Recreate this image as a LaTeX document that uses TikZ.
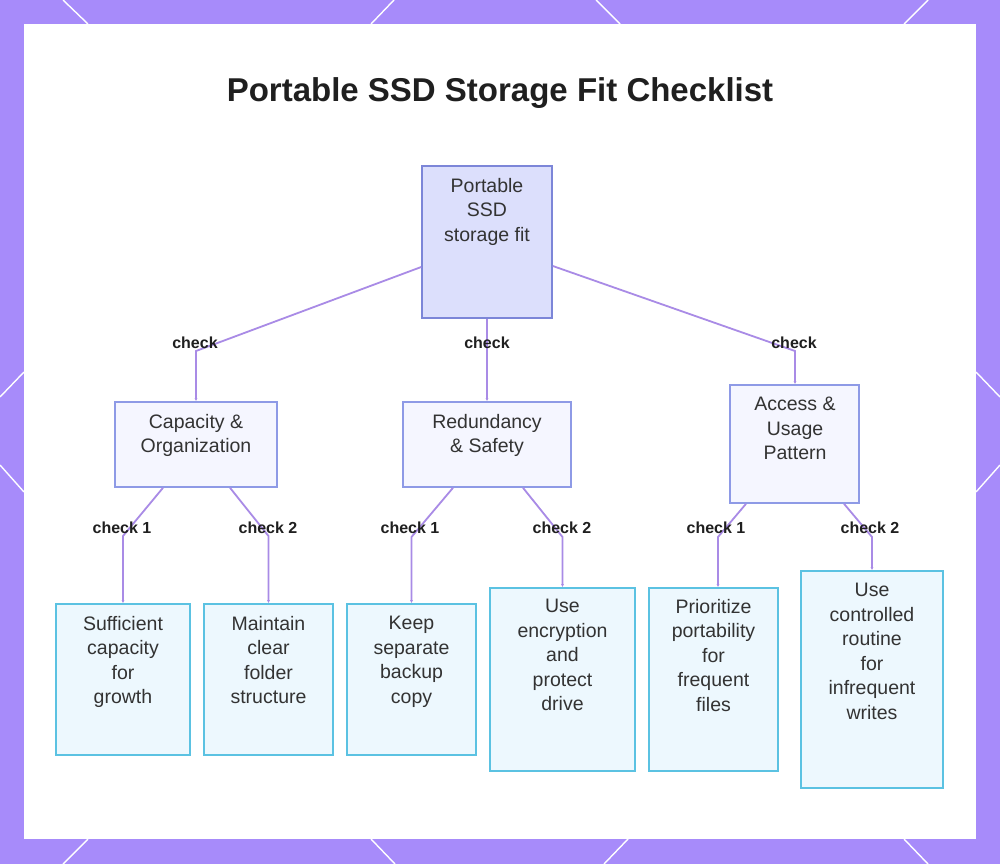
\documentclass[tikz,border=0pt]{standalone}
\usepackage{fontspec}
\setmainfont{Liberation Sans}
\usetikzlibrary{arrows.meta}
\definecolor{bord}{HTML}{A78BFA}
\definecolor{rootfill}{HTML}{DCDFFC}
\definecolor{rootline}{HTML}{7C86D8}
\definecolor{midfill}{HTML}{F5F6FF}
\definecolor{midline}{HTML}{8E9AE6}
\definecolor{leaffill}{HTML}{EDF8FE}
\definecolor{leafline}{HTML}{5BC2E2}
\definecolor{edgecol}{HTML}{A98BE6}
\definecolor{txt}{HTML}{333333}
\definecolor{dark}{HTML}{1F1F1F}
\tikzset{
  boxbase/.style={draw, line width=1.6pt, inner sep=0pt, rectangle},
  rootbox/.style={boxbase, fill=rootfill, draw=rootline},
  midbox/.style={boxbase, fill=midfill, draw=midline},
  leafbox/.style={boxbase, fill=leaffill, draw=leafline},
  boxtext/.style={anchor=north, inner sep=0pt, align=center, text=txt,
    font=\fontsize{19.5}{24.5}\selectfont},
  edge/.style={draw=edgecol, line width=1.8pt, -{Latex[length=3pt,width=3pt]}},
  elabel/.style={inner sep=0pt, text=dark, font=\fontsize{16}{18}\selectfont\bfseries},
  deco/.style={draw=white, line width=1.4pt}
}
\begin{document}
\begin{tikzpicture}[x=1pt,y=-1pt]
\useasboundingbox (0,0) rectangle (1000,864);
\fill[bord] (0,0) rectangle (1000,864);
% border decorations
\draw[deco] (63,0) -- (88,24);
\draw[deco] (394,0) -- (371,24);
\draw[deco] (596,0) -- (620,24);
\draw[deco] (928,0) -- (904,24);
\draw[deco] (63,864) -- (88,839);
\draw[deco] (395,864) -- (371,839);
\draw[deco] (604,864) -- (628,839);
\draw[deco] (928,864) -- (904,839);
\draw[deco] (0,397) -- (24,372);
\draw[deco] (0,465) -- (24,492);
\draw[deco] (1000,397) -- (976,372);
\draw[deco] (1000,465) -- (976,492);
\fill[white] (24,24) rectangle (976,839);
% title
\node[anchor=base, inner sep=0pt, text=dark, font=\fontsize{33}{38}\selectfont\bfseries] (title) at (500,102) {Portable SSD Storage Fit Checklist};
% boxes
\node[rootbox, minimum width=130pt, minimum height=152pt] (root) at (487,242) {};
\node[midbox, minimum width=162pt, minimum height=85pt] (cap) at (196,444.5) {};
\node[midbox, minimum width=168pt, minimum height=85pt] (red) at (487,444.5) {};
\node[midbox, minimum width=129pt, minimum height=118pt] (acc) at (794.5,444) {};
\node[leafbox, minimum width=134pt, minimum height=151pt] (l1) at (123,679.5) {};
\node[leafbox, minimum width=129pt, minimum height=151pt] (l2) at (268.5,679.5) {};
\node[leafbox, minimum width=129pt, minimum height=151pt] (l3) at (411.5,679.5) {};
\node[leafbox, minimum width=145pt, minimum height=183pt] (l4) at (562.5,679.5) {};
\node[leafbox, minimum width=129pt, minimum height=183pt] (l5) at (713.5,679.5) {};
\node[leafbox, minimum width=142pt, minimum height=217pt] (l6) at (872,679.5) {};
% texts
\node[boxtext] (troot) at (487,178) {Portable\\SSD\\storage fit};
\node[boxtext] (tcap) at (196,414) {Capacity \&\\Organization};
\node[boxtext] (tred) at (487,414) {Redundancy\\\& Safety};
\node[boxtext] (tacc) at (795,397) {Access \&\\Usage\\Pattern};
\node[boxtext] (tl1) at (123,616) {Sufficient\\capacity\\for\\growth};
\node[boxtext] (tl2) at (268.5,616) {Maintain\\clear\\folder\\structure};
\node[boxtext] (tl3) at (411.5,616) {Keep\\separate\\backup\\copy};
\node[boxtext] (tl4) at (562.5,599) {Use\\encryption\\and\\protect\\drive};
\node[boxtext] (tl5) at (713.5,599) {Prioritize\\portability\\for\\frequent\\files};
\node[boxtext] (tl6) at (872,583) {Use\\controlled\\routine\\for\\infrequent\\writes};
% bend points
\coordinate (b1) at (196,351);
\coordinate (b3) at (795,351);
\coordinate (c1) at (123,536);
\coordinate (c2) at (268.5,536);
\coordinate (c3) at (411.5,537);
\coordinate (c4) at (562.5,537);
\coordinate (c5) at (718,537);
\coordinate (c6) at (872,537);
% edges
\draw[edge] ([yshift=-25pt]root.west) -- (b1) -- (cap.north);
\draw[edge] (root.south) -- (red.north);
\draw[edge] ([yshift=-24pt]root.east) -- (b3) -- (b3 |- acc.north);
\draw[edge] ([xshift=-33pt]cap.south) -- (c1) -- (l1.north);
\draw[edge] ([xshift=34pt]cap.south) -- (c2) -- (l2.north);
\draw[edge] ([xshift=-34pt]red.south) -- (c3) -- (l3.north);
\draw[edge] ([xshift=36pt]red.south) -- (c4) -- (l4.north);
\draw[edge] ([xshift=-48.5pt]acc.south) -- (c5) -- (c5 |- l5.north);
\draw[edge] ([xshift=49.5pt]acc.south) -- (c6) -- (l6.north);
% labels
\node[elabel] (e1) at (195,343) {check};
\node[elabel] (e2) at (487,343) {check};
\node[elabel] (e3) at (794,343) {check};
\node[elabel] (e4) at (122,528) {check 1};
\node[elabel] (e5) at (268,528) {check 2};
\node[elabel] (e6) at (410,528) {check 1};
\node[elabel] (e7) at (562,528) {check 2};
\node[elabel] (e8) at (716,528) {check 1};
\node[elabel] (e9) at (870,528) {check 2};
\end{tikzpicture}
\end{document}
